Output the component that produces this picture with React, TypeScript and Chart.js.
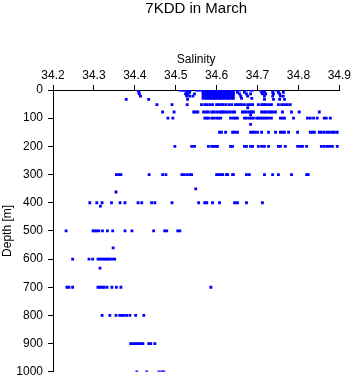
import React, { useEffect, useRef } from "react";
import { Chart, registerables } from "chart.js";

Chart.register(...registerables);

const titleText = "7KDD in March";
const xAxisTitle = "Salinity";
const yAxisTitle = "Depth [m]";

const salinityTicks = [34.2, 34.3, 34.4, 34.5, 34.6, 34.7, 34.8, 34.9];
const depthTicks = [0, 100, 200, 300, 400, 500, 600, 700, 800, 900, 1000];

// dense cluster of near-surface samples (0-30 m)
const denseSurface = [34.567, 34.573, 34.578, 34.584, 34.59, 34.595, 34.601, 34.607, 34.612, 34.618, 34.624, 34.629, 34.635, 34.641];

const depths = [0, 8, 14, 22, 30, 33, 52, 63, 78, 88, 100, 122, 150, 200, 300, 351, 362, 400, 412, 500, 560, 600, 632, 700, 800, 900, 1000];

const salinityByDepth: number[][] = [
  [34.408, 34.51, 34.514, 34.518, 34.522, 34.527, 34.536, 34.551, 34.556, 34.561, ...denseSurface, 34.651, 34.656, 34.673, 34.683, 34.688, 34.707, 34.717, 34.746],
  [34.41, 34.527, 34.534, ...denseSurface, 34.651, 34.668, 34.71, 34.717, 34.737, 34.751, 34.763],
  [34.411, 34.524, 34.53, 34.546, ...denseSurface, 34.656, 34.673, 34.683, 34.712, 34.72, 34.739, 34.754],
  [34.414, 34.527, 34.534, 34.542, ...denseSurface, 34.659, 34.676, 34.717, 34.737, 34.756, 34.763],
  [...denseSurface, 34.661, 34.686],
  [34.379, 34.434, 34.529, 34.717, 34.739, 34.754, 34.766],
  [34.454, 34.491, 34.528, 34.563, 34.571, 34.576, 34.583, 34.59, 34.6, 34.605, 34.612, 34.615, 34.622, 34.63, 34.637, 34.646, 34.651, 34.656, 34.661, 34.668, 34.676, 34.682, 34.688, 34.702, 34.71, 34.715, 34.72, 34.727, 34.734, 34.751, 34.759, 34.766, 34.773, 34.78],
  [34.676],
  [34.468, 34.496, 34.544, 34.549, 34.554, 34.568, 34.574, 34.58, 34.588, 34.593, 34.6, 34.607, 34.612, 34.615, 34.62, 34.626, 34.632, 34.639, 34.644, 34.663, 34.668, 34.673, 34.68, 34.685, 34.69, 34.71, 34.715, 34.72, 34.727, 34.732, 34.737, 34.744, 34.761, 34.783, 34.802, 34.851],
  [34.683],
  [34.481, 34.493, 34.571, 34.576, 34.58, 34.588, 34.593, 34.6, 34.605, 34.61, 34.634, 34.641, 34.646, 34.651, 34.668, 34.673, 34.68, 34.685, 34.69, 34.698, 34.702, 34.707, 34.712, 34.717, 34.722, 34.727, 34.734, 34.756, 34.761, 34.766, 34.788, 34.822, 34.829, 34.837, 34.846, 34.863, 34.868, 34.878],
  [34.683],
  [34.607, 34.612, 34.622, 34.639, 34.644, 34.651, 34.683, 34.688, 34.693, 34.7, 34.71, 34.727, 34.744, 34.756, 34.761, 34.766, 34.776, 34.798, 34.829, 34.834, 34.839, 34.851, 34.856, 34.863, 34.87, 34.876, 34.883, 34.888, 34.895],
  [34.498, 34.539, 34.546, 34.58, 34.588, 34.593, 34.598, 34.602, 34.634, 34.639, 34.668, 34.673, 34.683, 34.688, 34.702, 34.71, 34.717, 34.727, 34.751, 34.756, 34.768, 34.798, 34.805, 34.81, 34.82, 34.856, 34.863, 34.87, 34.876, 34.883, 34.895],
  [34.355, 34.361, 34.366, 34.435, 34.468, 34.476, 34.515, 34.52, 34.527, 34.534, 34.539, 34.6, 34.605, 34.61, 34.615, 34.624, 34.627, 34.639, 34.641, 34.673, 34.68, 34.717, 34.737, 34.751, 34.783, 34.82, 34.824],
  [34.549],
  [34.354],
  [34.29, 34.307, 34.32, 34.343, 34.364, 34.376, 34.408, 34.417, 34.441, 34.449, 34.491, 34.556, 34.571, 34.576, 34.59, 34.607, 34.644, 34.651, 34.673, 34.712],
  [34.316],
  [34.232, 34.298, 34.302, 34.307, 34.312, 34.321, 34.333, 34.346, 34.376, 34.393, 34.446, 34.473, 34.478, 34.505, 34.51],
  [34.347],
  [34.248, 34.288, 34.297, 34.31, 34.315, 34.32, 34.325, 34.33, 34.335, 34.34, 34.346, 34.351],
  [34.315],
  [34.234, 34.239, 34.248, 34.31, 34.315, 34.32, 34.325, 34.332, 34.344, 34.355, 34.366, 34.586],
  [34.32, 34.339, 34.354, 34.363, 34.368, 34.373, 34.38, 34.388, 34.402, 34.422],
  [34.39, 34.395, 34.4, 34.405, 34.41, 34.415, 34.42, 34.434, 34.439, 34.449],
  [34.405, 34.429, 34.459, 34.466, 34.471],
];

const FONT = "'Liberation Sans', Arial, Helvetica, sans-serif";

export default function App() {
  const canvasRef = useRef<HTMLCanvasElement | null>(null);

  useEffect(() => {
    const canvas = canvasRef.current;
    if (!canvas) return;
    const points: { x: number; y: number }[] = [];
    depths.forEach((d, i) => {
      salinityByDepth[i].forEach((s) => points.push({ x: s, y: d }));
    });

    const chart = new Chart(canvas, {
      type: "scatter",
      data: {
        datasets: [
          {
            data: points,
            pointStyle: "rect",
            pointRadius: 2,
            pointHoverRadius: 2,
            borderWidth: 0,
            backgroundColor: "#0000ff",
            borderColor: "#0000ff",
          },
        ],
      },
      options: {
        animation: false,
        responsive: true,
        maintainAspectRatio: false,
        layout: { padding: { left: 0, right: 12.3, top: 0, bottom: 5.8 } },
        plugins: {
          legend: { display: false },
          tooltip: { enabled: false },
          title: {
            display: true,
            text: titleText,
            fullSize: false,
            color: "#000",
            font: { family: FONT, size: 15, weight: "normal", lineHeight: 1.2 },
            padding: { top: 0, bottom: 0 },
          },
        },
        scales: {
          x: {
            type: "linear",
            position: "top",
            min: 34.2,
            max: 34.9,
            afterBuildTicks: (scale: any) => {
              scale.ticks = salinityTicks.map((v) => ({ value: v }));
            },
            afterFit: (scale: any) => {
              scale.height = 72;
            },
            ticks: {
              color: "#000",
              padding: 2,
              maxRotation: 0,
              autoSkip: false,
              font: { family: FONT, size: 12 },
              callback: (v: any) => Number(v).toFixed(1),
            },
            grid: {
              drawOnChartArea: false,
              drawTicks: true,
              tickLength: 5,
              color: "#000",
              lineWidth: 1,
            },
            border: { display: true, color: "#000", width: 1 },
            title: {
              display: true,
              text: xAxisTitle,
              color: "#000",
              font: { family: FONT, size: 12 },
              padding: { top: 34, bottom: 0 },
            },
          },
          y: {
            type: "linear",
            position: "left",
            reverse: true,
            min: 0,
            max: 1000,
            afterBuildTicks: (scale: any) => {
              scale.ticks = depthTicks.map((v) => ({ value: v }));
            },
            afterFit: (scale: any) => {
              scale.width = 53;
            },
            ticks: {
              color: "#000",
              padding: 5,
              autoSkip: false,
              font: { family: FONT, size: 12 },
              callback: (v: any) => String(v),
            },
            grid: {
              drawOnChartArea: false,
              drawTicks: true,
              tickLength: 5,
              color: "#000",
              lineWidth: 1,
            },
            border: { display: true, color: "#000", width: 1 },
            title: {
              display: true,
              text: yAxisTitle,
              color: "#000",
              font: { family: FONT, size: 12 },
              padding: { top: 0, bottom: 0 },
            },
          },
        },
      },
    });
    return () => chart.destroy();
  }, []);

  return (
    <div style={{ position: "absolute", left: 0, top: 0, width: 353, height: 384, background: "#fff" }}>
      <canvas ref={canvasRef} />
    </div>
  );
}
